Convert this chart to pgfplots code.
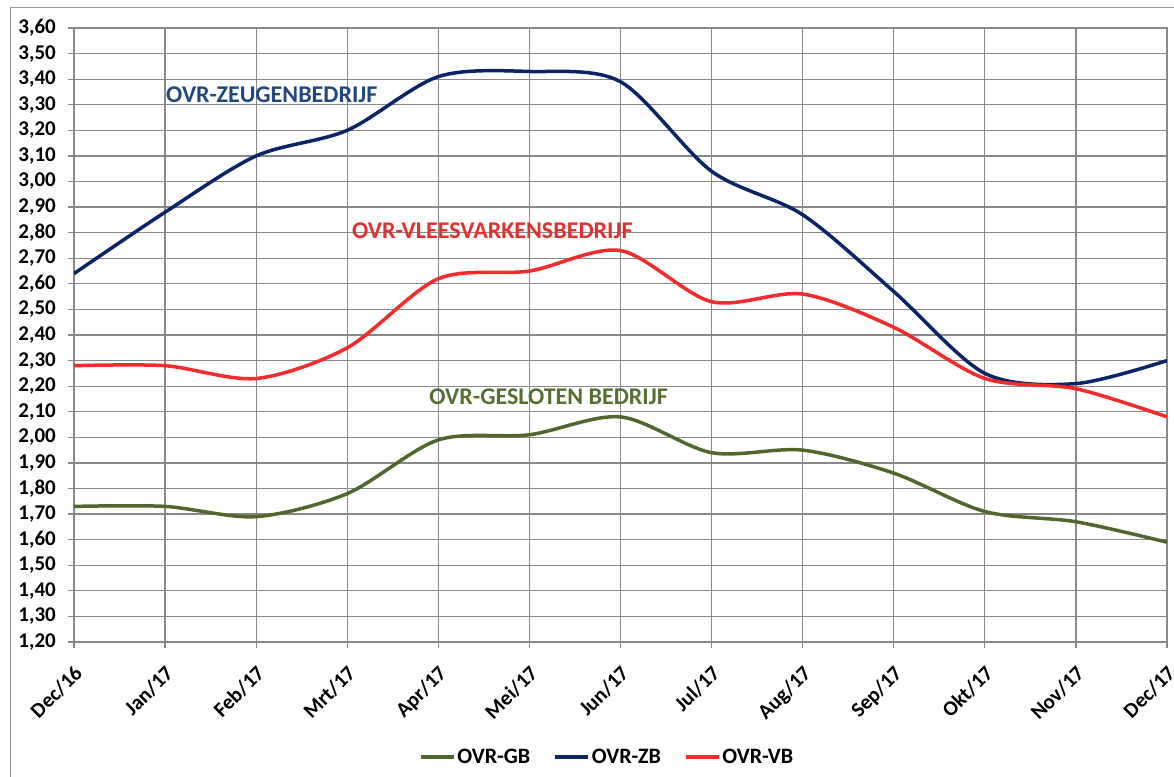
\documentclass[border=0pt]{standalone}
\usepackage{pgfplots}
\pgfplotsset{compat=1.18}
\usepackage{fontspec}
\setmainfont{Carlito}
\definecolor{zbline}{RGB}{10,36,104}
\definecolor{vbline}{RGB}{245,42,42}
\definecolor{gbline}{RGB}{80,104,46}
\definecolor{zblab}{RGB}{31,73,125}
\definecolor{vblab}{RGB}{226,48,46}
\definecolor{gblab}{RGB}{86,112,50}
\definecolor{gridgray}{RGB}{136,136,136}
\definecolor{bordergray}{RGB}{150,150,150}
\begin{document}
\begin{tikzpicture}
\useasboundingbox (0pt,0pt) rectangle (1174pt,776pt);
\fill[white] (0pt,0pt) rectangle (1174pt,776pt);
\draw[bordergray, line width=1pt] (10pt,-2pt) -- (10pt,768pt) -- (1176pt,768pt);
\begin{axis}[
  at={(74pt,134pt)}, anchor=south west,
  scale only axis, width=1093pt, height=614pt,
  xmin=0, xmax=12, ymin=1.2, ymax=3.6,
  xtick={0,...,12},
  xticklabels={Dec/16,Jan/17,Feb/17,Mrt/17,Apr/17,Mei/17,Jun/17,Jul/17,Aug/17,Sep/17,Okt/17,Nov/17,Dec/17},
  ytick={1.2,1.3,1.4,1.5,1.6,1.7,1.8,1.9,2.0,2.1,2.2,2.3,2.4,2.5,2.6,2.7,2.8,2.9,3.0,3.1,3.2,3.3,3.4,3.5,3.6},
  grid=major,
  major grid style={gridgray, line width=1.3pt},
  axis line style={gridgray, line width=1.3pt},
  tick style={gridgray, line width=1.3pt},
  tick align=outside, major tick length=6pt,
  xtick pos=lower, ytick pos=left,
  /pgf/number format/assume math mode=true,
  tick label style={font=\fontsize{21}{21}\selectfont\bfseries, text=black},
  y tick label style={/pgf/number format/fixed, /pgf/number format/fixed zerofill, /pgf/number format/precision=2, /pgf/number format/use comma, anchor=east, inner sep=0pt, xshift=-12pt},
  x tick label style={xshift=-1pt, yshift=-16pt, rotate=45, anchor=north east, inner sep=0pt},
  no markers,
  legend style={at={(0.4877,-0.187)}, anchor=center, draw=none, fill=none,
    font=\fontsize{22}{22}\selectfont\bfseries, legend columns=3,
    /tikz/every even column/.append style={column sep=21pt},
    nodes={inner sep=2pt}},
  legend image code/.code={\draw[#1, line width=3.5pt] (0pt,0pt) -- (33pt,0pt);},
]
\addplot[gbline, line width=3.5pt, smooth, tension=0.5] coordinates {
(0,1.73) (1,1.73) (2,1.69) (3,1.78) (4,1.99) (5,2.01) (6,2.08) (7,1.94) (8,1.95) (9,1.86) (10,1.71) (11,1.67) (12,1.59)};
\addlegendentry{OVR-GB}
\addplot[zbline, line width=3.5pt, smooth, tension=0.5] coordinates {
(0,2.64) (1,2.88) (2,3.10) (3,3.20) (4,3.41) (5,3.43) (6,3.39) (7,3.04) (8,2.87) (9,2.57) (10,2.25) (11,2.21) (12,2.30)};
\addlegendentry{OVR-ZB}
\addplot[vbline, line width=3.5pt, smooth, tension=0.5] coordinates {
(0,2.28) (1,2.28) (2,2.23) (3,2.35) (4,2.62) (5,2.65) (6,2.73) (7,2.53) (8,2.56) (9,2.43) (10,2.23) (11,2.19) (12,2.08)};
\addlegendentry{OVR-VB}
\node[anchor=west, inner sep=0pt, text=zblab, font=\fontsize{24}{24}\selectfont\bfseries] at (axis cs:1.01,3.338) {OVR-ZEUGENBEDRIJF};
\node[anchor=west, inner sep=0pt, text=vblab, font=\fontsize{24}{24}\selectfont\bfseries] at (axis cs:3.05,2.807) {OVR-VLEESVARKENSBEDRIJF};
\node[anchor=west, inner sep=0pt, text=gblab, font=\fontsize{24}{24}\selectfont\bfseries] at (axis cs:3.90,2.158) {OVR-GESLOTEN BEDRIJF};
\end{axis}
\end{tikzpicture}
\end{document}
